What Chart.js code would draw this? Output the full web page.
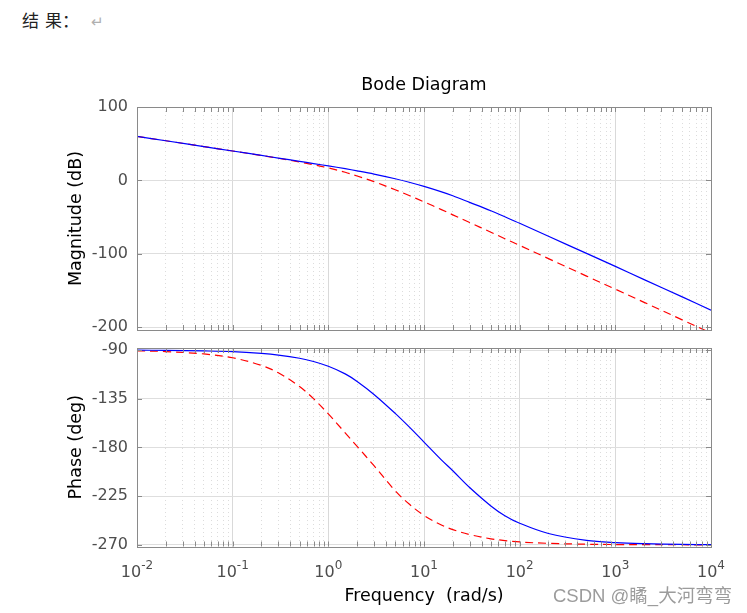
<!DOCTYPE html>
<html>
<head>
<meta charset="utf-8">
<script src="https://cdn.jsdelivr.net/npm/chart.js@4.4.1/dist/chart.umd.min.js"></script>
<style>
  html, body { margin: 0; padding: 0; background: #fff; width: 747px; height: 613px; overflow: hidden; }
  body { position: relative; font-family: "Noto Sans CJK SC", sans-serif; }
  .pane { position: absolute; left: 0; width: 747px; }
  #note { position: absolute; left: 22px; top: 9px; font-size: 17px; color: #222; line-height: 22px; }
  #note .ret { color: #b0b0b0; margin-left: 12px; font-size: 15px; }
  #mark { position: absolute; left: 553px; top: 581px; font-size: 18.5px; color: #9c9c9c;
          font-family: "Liberation Sans", "Noto Sans CJK SC", sans-serif; text-shadow: 0 0 2px #fff; }
</style>
</head>
<body>
<div id="note">结<span style="margin-left:6px">果</span>：<span class="ret">↵</span></div>
<div class="pane" style="top:60px;height:290px"><canvas id="cMag" width="747" height="290"></canvas></div>
<div class="pane" style="top:325px;height:288px"><canvas id="cPh" width="747" height="288"></canvas></div>
<div id="mark">CSDN @瞲_大河弯弯</div>
<script>
// ── datos ──────────────────────────────────────────────────────────────
const freq = [0.01, 0.02, 0.05, 0.1, 0.2, 0.3, 0.5, 0.7, 1, 1.5, 2, 3, 5, 7, 10, 15, 20, 30, 50, 70, 100, 200, 500, 1000, 2000, 5000, 10000];
const magBlue = [60.0, 54.0, 46.0, 40.0, 34.0, 30.4, 26.0, 22.9, 19.7, 15.9, 13.0, 8.6, 2.2, -2.6, -8.3, -15.4, -21.0, -30.0, -41.5, -49.7, -58.5, -76.3, -99.5, -117.3, -135.3, -158.9, -177.0];
const magRed = [60.0, 54.0, 46.0, 40.0, 33.8, 30.1, 25.0, 21.3, 17.0, 11.0, 6.0, -1.8, -12.8, -20.6, -29.3, -39.5, -47.0, -57.5, -70.7, -79.5, -88.7, -106.7, -130.5, -148.3, -166.3, -190.2, -208.2];
const phaseBlue = [-90.1, -90.3, -90.8, -91.5, -93.1, -94.6, -97.6, -100.6, -105.0, -112.0, -119.0, -131.0, -148.5, -161.0, -175.0, -191.0, -201.5, -217.0, -234.0, -243.0, -250.0, -259.5, -265.8, -267.9, -268.9, -269.6, -269.8];
const phaseRed = [-90.7, -91.4, -93.6, -97.1, -104.2, -111.0, -123.7, -134.9, -149.0, -166.5, -179.0, -196.8, -220.0, -232.3, -242.8, -251.4, -255.9, -260.5, -264.4, -266.0, -267.3, -268.6, -269.4, -269.7, -269.8, -269.9, -270.0];

const decades = [0.01, 0.1, 1, 10, 100, 1000, 10000];
const exponents = ['-2', '-1', '0', '1', '2', '3', '4'];
const minorSteps = [2, 3, 4, 5, 6, 7, 8, 9];
const magTicks = [-200, -100, 0, 100];
const phaseTicks = [-270, -225, -180, -135, -90];

const FONT = '"DejaVu Sans", sans-serif';
Chart.defaults.font.family = FONT;

// ── helpers ─────────────────────────────────────────────────────────────
const pts = ys => freq.map((f, i) => ({ x: f, y: ys[i] }));

function freqTicks(scale) {
  const t = [];
  decades.forEach((d, i) => {
    t.push({ value: d, major: true });
    if (i < decades.length - 1)
      minorSteps.forEach(k => t.push({ value: +(k * d).toPrecision(2), major: false }));
  });
  scale.ticks = t;
}

// caja + marcas hacia adentro (estilo MATLAB)
const boxTicks = {
  id: 'boxTicks',
  afterDraw(chart) {
    const { ctx, chartArea: a, scales: { x, y } } = chart;
    ctx.save();
    ctx.strokeStyle = '#8a8a8a';
    ctx.lineWidth = 1;
    ctx.beginPath();
    x.ticks.forEach(t => {
      const px = Math.round(x.getPixelForValue(t.value)) + 0.5;
      ctx.moveTo(px, a.top); ctx.lineTo(px, a.top + 5);
      ctx.moveTo(px, a.bottom); ctx.lineTo(px, a.bottom - 5);
    });
    y.ticks.forEach(t => {
      const py = Math.round(y.getPixelForValue(t.value)) + 0.5;
      ctx.moveTo(a.left, py); ctx.lineTo(a.left + 5, py);
      ctx.moveTo(a.right, py); ctx.lineTo(a.right - 5, py);
    });
    ctx.stroke();
    ctx.strokeRect(Math.round(a.left) + 0.5, Math.round(a.top) + 0.5,
                   Math.round(a.right - a.left), Math.round(a.bottom - a.top));
    ctx.restore();
  }
};

// etiquetas 10^n con exponente
const expLabels = {
  id: 'expLabels',
  afterDraw(chart) {
    const { ctx, scales: { x } } = chart;
    ctx.save();
    ctx.fillStyle = '#4d4d4d';
    ctx.textBaseline = 'alphabetic';
    ctx.textAlign = 'left';
    decades.forEach((v, i) => {
      const px = x.getPixelForValue(v);
      ctx.font = '16px ' + FONT;
      const wb = ctx.measureText('10').width;
      ctx.font = '12px ' + FONT;
      const we = ctx.measureText(exponents[i]).width;
      const x0 = px - (wb + we) / 2;
      ctx.font = '16px ' + FONT;
      ctx.fillText('10', x0, x.top + 30.5);
      ctx.font = '12px ' + FONT;
      ctx.fillText(exponents[i], x0 + wb, x.top + 22.5);
    });
    ctx.restore();
  }
};

function xScale(height, title) {
  return {
    type: 'logarithmic', min: 0.01, max: 10000,
    afterBuildTicks: freqTicks,
    afterFit: s => { s.height = height; },
    ticks: { display: false },
    grid: { drawTicks: false, color: c => c.tick && c.tick.major ? '#d9d9d9' : '#dcdcdc' },
    border: { display: false, dash: c => c.tick && c.tick.major ? [] : [1, 3] },
    title: title
  };
}

function yScale(min, max, ticks, label) {
  return {
    min, max,
    afterBuildTicks: s => { s.ticks = ticks.map(v => ({ value: v })); },
    afterFit: s => { s.width = 137; },
    ticks: { color: '#4d4d4d', padding: 9, font: { size: 16 }, callback: v => String(v) },
    grid: { drawTicks: false, color: '#dedede' },
    border: { display: false },
    title: { display: true, text: label, color: '#000', font: { size: 17.5 }, padding: { top: 65.5, bottom: 0 } }
  };
}

function lineSet(label, ys, color, dash) {
  return { label, data: pts(ys), borderColor: color, borderWidth: 1.2, borderDash: dash,
           pointRadius: 0, tension: 0.35, fill: false };
}

const common = { responsive: false, animation: false, events: [] };

// ── magnitud ────────────────────────────────────────────────────────────
new Chart(document.getElementById('cMag'), {
  type: 'line',
  data: { datasets: [
    lineSet('G1', magBlue, '#0000ff', []),
    lineSet('G2', magRed, '#ff0000', [8, 5])
  ]},
  options: {
    ...common,
    layout: { padding: { left: 0, right: 36, top: 0, bottom: 0 } },
    plugins: {
      legend: { display: false }, tooltip: { enabled: false },
      title: { display: true, text: 'Bode Diagram', color: '#000', fullSize: false,
               font: { size: 17.5, weight: 'normal' }, padding: { top: 15, bottom: 11 } }
    },
    scales: {
      x: xScale(20, { display: false }),
      y: yScale(-204, 100, magTicks, 'Magnitude (dB)')
    }
  },
  plugins: [boxTicks]
});

// ── fase ────────────────────────────────────────────────────────────────
new Chart(document.getElementById('cPh'), {
  type: 'line',
  data: { datasets: [
    lineSet('G1', phaseBlue, '#0000ff', []),
    lineSet('G2', phaseRed, '#ff0000', [8, 5])
  ]},
  options: {
    ...common,
    layout: { padding: { left: 0, right: 36, top: 23, bottom: 0 } },
    plugins: { legend: { display: false }, tooltip: { enabled: false } },
    scales: {
      x: xScale(66.5, { display: true, text: 'Frequency  (rad/s)', color: '#000',
                        font: { size: 17.5 }, padding: { top: 0, bottom: 6.5 } }),
      y: yScale(-271.5, -88.1, phaseTicks, 'Phase (deg)')
    }
  },
  plugins: [boxTicks, expLabels]
});
</script>
</body>
</html>
